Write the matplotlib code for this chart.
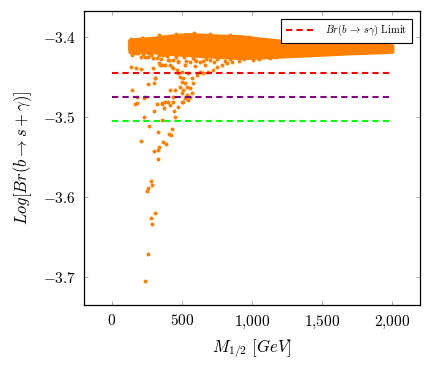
import matplotlib
matplotlib.use("Agg")
import matplotlib.pyplot as plt
import matplotlib.ticker as ticker

plt.rcParams["mathtext.fontset"] = "cm"
plt.rcParams["font.family"] = ["cmr10", "DejaVu Serif"]
plt.rcParams["axes.formatter.use_mathtext"] = True

ORANGE = (1.0, 0.5, 0.0)

# dense band of points: envelope (x, upper, lower)
band_x = [124, 166, 273, 416, 537, 629, 772, 915, 1057, 1200, 1343, 1521, 1699, 1877, 2000]
band_top = [-3.4034, -3.4021, -3.4009, -3.3978, -3.3959, -3.3965, -3.3978, -3.3984,
            -3.4015, -3.4040, -3.4055, -3.4065, -3.4075, -3.4088, -3.4100]
band_bot = [-3.4159, -3.4178, -3.4184, -3.4209, -3.4221, -3.4234, -3.4246, -3.4259,
            -3.4253, -3.4240, -3.4230, -3.4215, -3.4200, -3.4190, -3.4180]

# ragged points along the band's lower edge
edge_bot_x = [128, 147, 170, 206, 221, 256, 283, 297, 334, 352, 393, 412, 455, 471, 517,
              533, 578, 596, 648, 671, 727, 752, 806, 843, 908, 944, 1007, 1052, 1131, 1172]
edge_bot_y = [-3.4185, -3.4215, -3.4195, -3.4240, -3.4205, -3.4250, -3.4215, -3.4262,
              -3.4225, -3.4270, -3.4230, -3.4280, -3.4240, -3.4290, -3.4245, -3.4300,
              -3.4255, -3.4285, -3.4300, -3.4265, -3.4305, -3.4270, -3.4295, -3.4275,
              -3.4290, -3.4272, -3.4285, -3.4268, -3.4262, -3.4250]
# a few points along the upper edge
edge_top_x = [137, 214, 338, 455, 588, 702, 846, 981]
edge_top_y = [-3.4025, -3.4005, -3.3975, -3.3958, -3.3950, -3.3958, -3.3968, -3.3990]

# points below the band, low M_1/2 region
tongue_x = [339, 309, 301, 368, 403, 380, 428, 463, 475, 499, 487, 510, 499, 522, 487,
            535, 510, 558, 499, 535, 570, 582, 570, 546, 606, 629, 653, 689, 724, 748,
            784, 820, 855, 416, 451, 439, 380, 356, 546, 510, 261, 237, 321, 356, 522,
            558, 594, 629, 665, 473, 437, 190, 150, 600, 700]
tongue_y = [-3.4318, -3.4513, -3.4568, -3.4221, -3.4284, -3.4346, -3.4368, -3.4409,
            -3.4450, -3.4430, -3.4493, -3.4513, -3.4555, -3.4575, -3.4618, -3.4618,
            -3.4659, -3.4638, -3.4700, -3.4721, -3.4700, -3.4575, -3.4513, -3.4450,
            -3.4471, -3.4430, -3.4450, -3.4430, -3.4409, -3.4368, -3.4346, -3.4325,
            -3.4305, -3.4659, -3.4659, -3.4743, -3.4805, -3.4825, -3.4784, -3.4805,
            -3.4200, -3.4243, -3.4263, -3.4346, -3.4346, -3.4309, -3.4359, -3.4309,
            -3.4346, -3.4309, -3.4284, -3.4200, -3.4190, -3.4290, -3.4280]

tail_x = [138, 173, 209, 294, 344, 415, 437, 309, 259, 143, 182, 237, 321, 166, 232,
          178, 361, 399, 439, 416, 375, 301, 446, 475, 499, 522, 558, 451, 230, 361,
          266, 428, 328, 408, 420, 209, 368, 385, 337, 332, 304, 332, 278, 285, 257,
          254, 309, 277, 289, 257, 234]
tail_y = [-3.4375, -3.4388, -3.4400, -3.4380, -3.4340, -3.4346, -3.4388, -3.4513,
          -3.4588, -3.4659, -3.4743, -3.4743, -3.4834, -3.4834, -3.4755, -3.4818,
          -3.4834, -3.4805, -3.4805, -3.4846, -3.4888, -3.4921, -3.4921, -3.4868,
          -3.4805, -3.4763, -3.4743, -3.4993, -3.5000, -3.5034, -3.5105, -3.5150,
          -3.5180, -3.5213, -3.5221, -3.5296, -3.5305, -3.5338, -3.5375, -3.5409,
          -3.5418, -3.5521, -3.5796, -3.5843, -3.5880, -3.5918, -3.6190, -3.6263,
          -3.6338, -3.6703, -3.7046]

# horizontal limits
limit_x = [0, 2000]
limit_red = -3.445
limit_purple = -3.475
limit_green = -3.505

fig = plt.figure(figsize=(4.31, 3.76), dpi=100)
ax = fig.add_axes([0.1956, 0.1888, 0.7789, 0.7827])

ax.fill_between(band_x, band_bot, band_top, color=ORANGE, linewidth=2.2,
                edgecolor=ORANGE, zorder=2)
for xs, ys in [(edge_bot_x, edge_bot_y), (edge_top_x, edge_top_y),
               (tongue_x, tongue_y), (tail_x, tail_y)]:
    ax.scatter(xs, ys, s=8, color=ORANGE, linewidths=0, zorder=2)

dash = (0, (3, 2))
ax.plot(limit_x, [limit_red] * 2, color="red", lw=1.5, ls=dash, zorder=3,
        label=r"$Br(b\,\rightarrow\,s\gamma)$ Limit")
ax.plot(limit_x, [limit_purple] * 2, color="#800080", lw=1.5, ls=dash, zorder=3)
ax.plot(limit_x, [limit_green] * 2, color="#00FF00", lw=1.5, ls=dash, zorder=3)

ax.set_xlim(-195, 2197)
ax.set_ylim(-3.7346, -3.3667)
ax.set_xticks([0, 500, 1000, 1500, 2000])
ax.set_yticks([-3.7, -3.6, -3.5, -3.4])
ax.xaxis.set_major_formatter(
    ticker.FuncFormatter(lambda v, _: "$" + f"{int(v):,}".replace(",", "{,}") + "$"))
ax.yaxis.set_major_formatter(ticker.FuncFormatter(lambda v, _: f"$-{abs(v):.1f}$"))
ax.tick_params(direction="in", top=True, right=True, length=3, width=0.6,
               color="#999999", labelsize=11, pad=6)
for s in ax.spines.values():
    s.set_linewidth(0.9)

ax.set_xlabel(r"$M_{1/2}\ [GeV]$", fontsize=12, labelpad=5)
ax.set_ylabel(r"$Log[Br(b\rightarrow s+\gamma)]$", fontsize=12, labelpad=6)

leg = ax.legend(loc="upper right", fontsize=7.5, frameon=True, fancybox=False,
                edgecolor="black", framealpha=1, handlelength=3.0,
                borderaxespad=0.75, borderpad=0.45)
leg.get_frame().set_linewidth(0.8)

fig.savefig("out.png", dpi=100)
